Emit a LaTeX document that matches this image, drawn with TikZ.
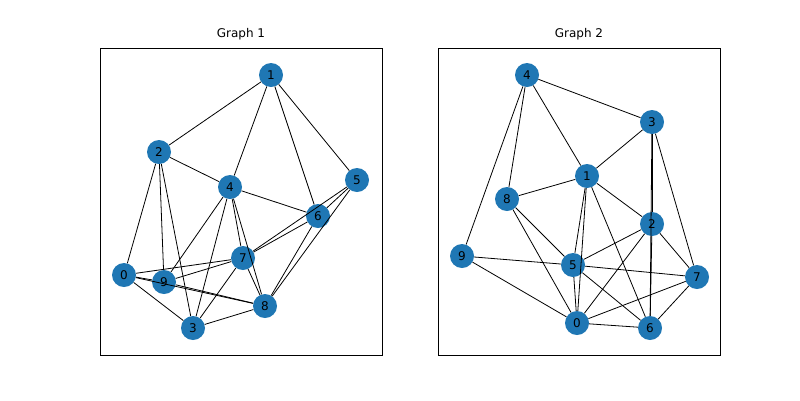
\documentclass[tikz,border=0pt]{standalone}
\usepackage{fontspec}
\setmainfont{DejaVu Sans}
\definecolor{nx}{HTML}{1F77B4}
\begin{document}
\begin{tikzpicture}[x=1pt,y=-1pt,
  vtx/.style={circle,fill=nx,minimum size=24pt,inner sep=0pt,font=\fontsize{12}{12}\selectfont},
  ttl/.style={font=\fontsize{12}{12}\selectfont},
  edge/.style={draw=black,line width=0.8pt}]
\useasboundingbox (0,0) rectangle (800,400);
\draw[line width=0.6pt] (100,48) rectangle (382,355);
\draw[line width=0.6pt] (438,48) rectangle (720,355);
\node[ttl] (t1) at (241,34) {Graph 1};
\node[ttl] (t2) at (579,34) {Graph 2};
% graph 1
\node[vtx] (a1) at (271,75) {1};
\node[vtx] (a2) at (159,152) {2};
\node[vtx] (a4) at (230,187) {4};
\node[vtx] (a5) at (357,180) {5};
\node[vtx] (a6) at (318,216) {6};
\node[vtx] (a7) at (243,258) {7};
\node[vtx] (a0) at (124,275) {0};
\node[vtx] (a9) at (164,282) {9};
\node[vtx] (a8) at (265,306) {8};
\node[vtx] (a3) at (193,328) {3};
\foreach \u/\v in {1/2,1/4,1/6,1/5,2/4,2/0,2/9,2/3,4/6,4/9,4/3,4/7,4/8,5/6,5/7,5/8,6/7,6/8,7/9,7/3,7/8,0/9,0/7,0/8,9/8,0/3,3/8}
  \draw[edge] (a\u) -- (a\v);
% graph 2
\node[vtx] (b4) at (527,75) {4};
\node[vtx] (b3) at (652,122) {3};
\node[vtx] (b1) at (587,176) {1};
\node[vtx] (b8) at (507,199) {8};
\node[vtx] (b2) at (652,224) {2};
\node[vtx] (b9) at (462,256) {9};
\node[vtx] (b5) at (573,265) {5};
\node[vtx] (b7) at (697,277) {7};
\node[vtx] (b0) at (577,323) {0};
\node[vtx] (b6) at (650,328) {6};
\foreach \u/\v in {4/1,4/3,4/8,4/9,1/3,1/8,1/5,1/0,1/2,1/6,3/2,3/7,3/6,8/5,8/0,2/5,2/0,2/7,2/6,9/5,9/0,5/7,5/0,5/6,0/7,0/6,6/7}
  \draw[edge] (b\u) -- (b\v);
\end{tikzpicture}
\end{document}
